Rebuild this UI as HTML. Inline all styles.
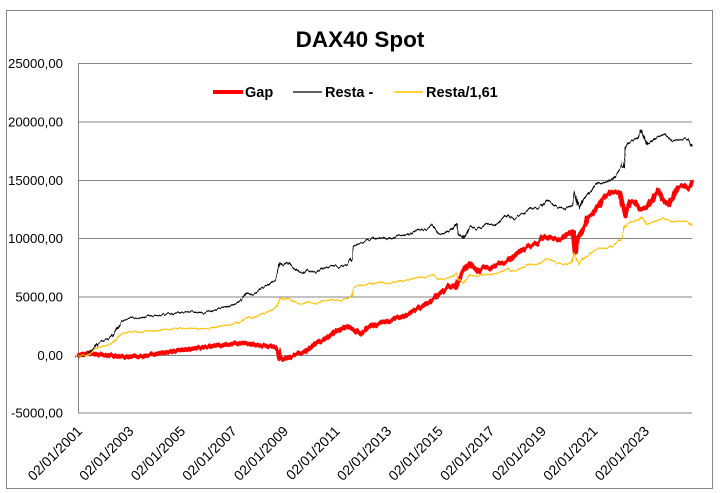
<!DOCTYPE html>
<html><head><meta charset="utf-8"><style>
html,body{margin:0;padding:0;background:#fff;}
svg{display:block;}
text{font-family:"Liberation Sans",Arial,sans-serif;fill:#000;}
</style></head><body>
<svg width="721" height="493" viewBox="0 0 721 493" xmlns="http://www.w3.org/2000/svg">
<defs>
<filter id="jb" filterUnits="userSpaceOnUse" x="0" y="0" width="721" height="493" color-interpolation-filters="sRGB">
<feTurbulence type="fractalNoise" baseFrequency="0.35 0.02" numOctaves="2" seed="3" result="n"/>
<feDisplacementMap in="SourceGraphic" in2="n" scale="5" xChannelSelector="G" yChannelSelector="R"/>
</filter>
<filter id="jy" filterUnits="userSpaceOnUse" x="0" y="0" width="721" height="493" color-interpolation-filters="sRGB">
<feTurbulence type="fractalNoise" baseFrequency="0.35 0.02" numOctaves="2" seed="7" result="n"/>
<feDisplacementMap in="SourceGraphic" in2="n" scale="3.5" xChannelSelector="G" yChannelSelector="R"/>
</filter>
<filter id="jr" filterUnits="userSpaceOnUse" x="0" y="0" width="721" height="493" color-interpolation-filters="sRGB">
<feTurbulence type="fractalNoise" baseFrequency="0.3 0.02" numOctaves="2" seed="11" result="n"/>
<feDisplacementMap in="SourceGraphic" in2="n" scale="5" xChannelSelector="G" yChannelSelector="R"/>
</filter>
</defs>
<rect x="0" y="0" width="721" height="493" fill="#fff"/>
<rect x="6.5" y="10.5" width="706" height="478" fill="#fff" stroke="#868686" stroke-width="1"/>
<text x="360" y="47" font-size="22.5" font-weight="bold" text-anchor="middle">DAX40 Spot</text>
<g stroke="#868686" stroke-width="1">
<line x1="78" y1="63.5" x2="692" y2="63.5"/>
<line x1="78" y1="122" x2="692" y2="122"/>
<line x1="78" y1="180.5" x2="692" y2="180.5"/>
<line x1="78" y1="238.5" x2="692" y2="238.5"/>
<line x1="78" y1="297" x2="692" y2="297"/>
<line x1="78" y1="355.5" x2="692" y2="355.5"/>
<line x1="78" y1="413" x2="692" y2="413"/>
<line x1="78.5" y1="63" x2="78.5" y2="413.5"/>
</g>
<g font-size="13.2" text-anchor="end">
<text x="63" y="68">25000,00</text>
<text x="63" y="126.5">20000,00</text>
<text x="63" y="185">15000,00</text>
<text x="63" y="243">10000,00</text>
<text x="63" y="301.5">5000,00</text>
<text x="63" y="360">0,00</text>
<text x="63" y="417.5">-5000,00</text>
</g>
<g font-size="14" text-anchor="end">
<text transform="translate(83,432) rotate(-45)">02/01/2001</text>
<text transform="translate(134.5,432) rotate(-45)">02/01/2003</text>
<text transform="translate(186.1,432) rotate(-45)">02/01/2005</text>
<text transform="translate(237.6,432) rotate(-45)">02/01/2007</text>
<text transform="translate(289.2,432) rotate(-45)">02/01/2009</text>
<text transform="translate(340.7,432) rotate(-45)">02/01/2011</text>
<text transform="translate(392.3,432) rotate(-45)">02/01/2013</text>
<text transform="translate(443.8,432) rotate(-45)">02/01/2015</text>
<text transform="translate(495.4,432) rotate(-45)">02/01/2017</text>
<text transform="translate(547,432) rotate(-45)">02/01/2019</text>
<text transform="translate(598.5,432) rotate(-45)">02/01/2021</text>
<text transform="translate(650,432) rotate(-45)">02/01/2023</text>
</g>
<!-- Gap (red) -->
<g filter="url(#jr)">
<polyline fill="none" stroke="#FF0000" stroke-width="4.6" stroke-linejoin="round" stroke-linecap="round" points="78,356 85,353.3 95,354 108,355.3 125,356.7 142,356.7 155,354 175,351 188,349.3 202,347.3 215,345.7 232,344 245,342.7 252,344.3 262,346 272,346 277,348.3 280,358.3 283,359.3 292,356 305,351.7 317,342.7 327,338.3 337,330.7 347,325.7 353,328.3 360,334 367,328.3 377,324 390,321 403,316 417,309 430,301.7 440,293.3 450,286 455,288.3 458,281.7 463,271.7 470,262.7 478,271.7 483,267.3 490,268.3 500,263.3 508,261.7 517,253.3 527,246.7 537,243.3 543,236.7 552,238.3 560,240 567,235 573,231.7 575,253 577,238.3 583,228.3 588,216.7 593,215 598,206.7 603,198.3 612,191.7 620,192.7 625,215 630,201.7 635,201.7 640,210 647,207.3 655,195 658,190 663,200 668,205 673,196.7 678,186.7 685,186 688,188.3 692,181.7"/>
</g>
<!-- Resta - (black) -->
<g filter="url(#jb)">
<polyline fill="none" stroke="#000" stroke-width="1.3" stroke-linejoin="round" points="78,357.5 82,355 86,356 90,352 94,348 97,343 102,341 108,339 112,336 117,328 121,322 125,319 132,318 142,318 150,316 158,315 166,314 175,313 183,312 192,312 200,313 208,312 215,310 222,308 228,306 235,304 241,300 247,293 252,295 257,292 262,288 268,285 275,280 278,272 280,263 284,266 288,263 293,268 298,272 303,272.5 307,269.3 317,272.7 323,267.3 333,266 340,267.3 348,263.3 352,258.3 353,246 360,243.3 370,239.3 380,237.7 390,239 397,236 407,235 417,230 427,229.3 432,225.3 438,232.7 445,233.3 453,228.3 457,223.3 458,233.3 463,239 470,226 477,229.3 487,225 498,223.3 508,215 513,220 523,214 530,208.3 538,209.3 547,200 557,206.7 565,209.3 572,205 574,190.7 577,201.7 579,209.3 583,200 590,191.7 598,183.3 607,182.7 613,178.3 620,170 623,166.7 625,148.3 628,143.3 633,140 638,137.3 641,130.7 644,138 647,145 653,140.7 658,137 663,134 667,137 672,140.7 680,140 687,138.3 690,143 692,146.7"/>
</g>
<!-- Resta/1,61 (yellow) -->
<g filter="url(#jy)">
<polyline fill="none" stroke="#FFC000" stroke-width="1.3" stroke-linejoin="round" points="78,356.7 82,355.1 86,355.7 90,353.3 94,350.8 97,347.7 102,346.4 108,345.2 112,343.3 117,338.3 121,334.6 125,332.8 132,332.1 142,332.1 150,330.9 158,330.3 166,329.6 175,329 183,328.4 192,328.4 200,329 208,328.4 215,327.2 222,325.9 228,324.7 235,323.4 241,321 247,316.6 252,317.9 257,316 262,313.5 268,311.6 275,308.5 278,303.6 280,298 284,299.8 288,298 293,301.1 298,303.6 303,303.9 307,301.9 317,304 323,300.6 333,299.8 340,300.6 348,298.2 352,295.1 353,287.4 360,285.7 370,283.3 380,282.3 390,283.1 397,281.2 407,280.6 417,277.5 427,277 432,274.6 438,279.2 445,279.5 453,276.4 457,273.3 458,279.5 463,283.1 470,275 477,277 487,274.4 498,273.3 508,268.2 513,271.3 523,267.5 530,264 538,264.6 547,258.8 557,263 565,264.6 572,262 574,253.1 577,259.9 579,264.6 583,258.8 590,253.7 598,248.5 607,248.1 613,245.4 620,240.2 623,238.2 625,226.7 628,223.6 633,221.6 638,219.9 641,215.8 644,220.3 647,224.7 653,222 658,219.7 663,217.9 667,219.7 672,222 680,221.6 687,220.5 690,223.4 692,225.7"/>
</g>
<!-- Legend -->
<line x1="213" y1="92" x2="243" y2="92" stroke="#FF0000" stroke-width="4"/>
<text x="245" y="97" font-size="14.5" font-weight="bold">Gap</text>
<line x1="293" y1="92" x2="322" y2="92" stroke="#000" stroke-width="1.3"/>
<text x="325" y="97" font-size="14.5" font-weight="bold">Resta -</text>
<line x1="394" y1="92" x2="423" y2="92" stroke="#FFC000" stroke-width="1.5"/>
<text x="426" y="97" font-size="14.5" font-weight="bold">Resta/1,61</text>
</svg>
</body></html>
